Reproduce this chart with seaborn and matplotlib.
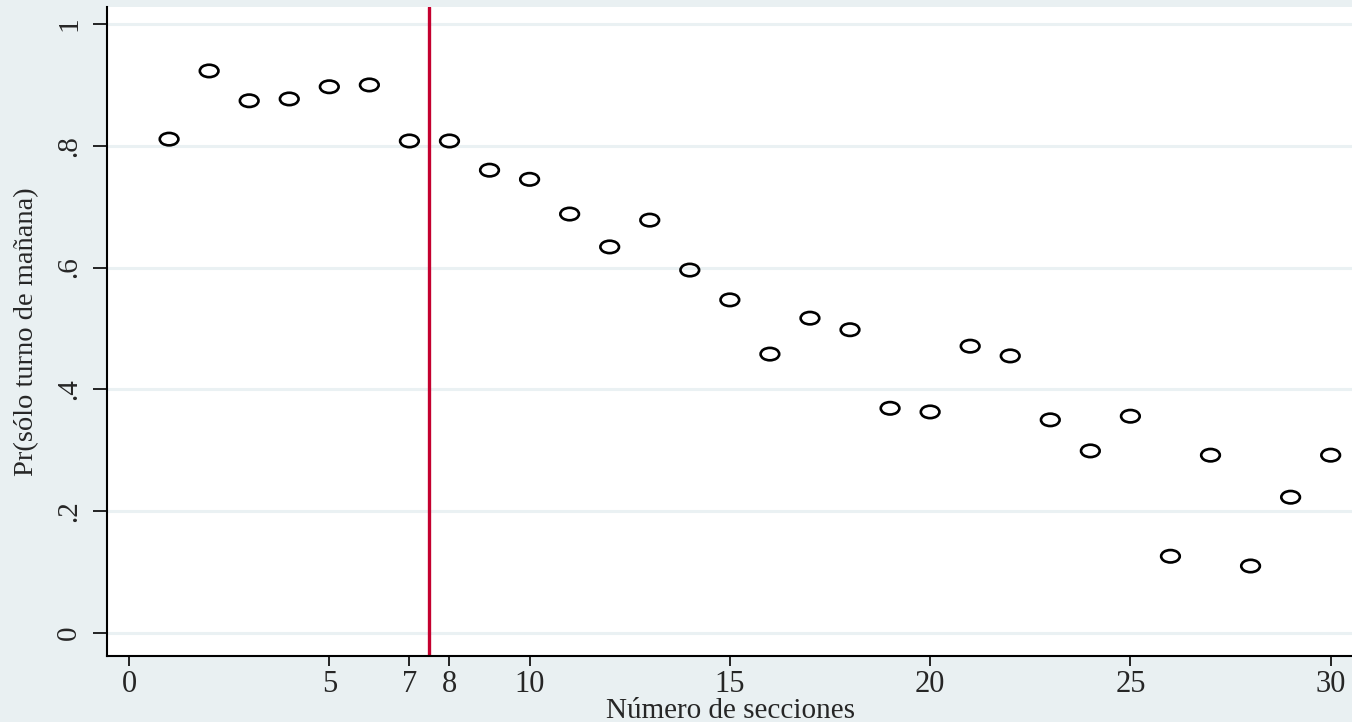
import numpy as np
import pandas as pd
import matplotlib
matplotlib.use("Agg")
import matplotlib.pyplot as plt
from matplotlib.path import Path
from matplotlib.transforms import Affine2D
import seaborn as sns

# Number of sections and the share of schools with morning shift only
secciones = list(range(1, 31))
prob_manana = [0.811, 0.923, 0.874, 0.877, 0.897, 0.900, 0.808, 0.808, 0.760, 0.745,
               0.688, 0.634, 0.678, 0.596, 0.547, 0.458, 0.517, 0.498, 0.369, 0.363,
               0.471, 0.455, 0.350, 0.299, 0.356, 0.126, 0.292, 0.110, 0.223, 0.292]
x_ticks = [0, 5, 7, 8, 10, 15, 20, 25, 30]
y_ticks = [0, 0.2, 0.4, 0.6, 0.8, 1.0]
y_ticklabels = ["0", ".2", ".4", ".6", ".8", "1"]
corte = 7.5

df = pd.DataFrame({"secciones": secciones, "prob": prob_manana})

bg = "#E9F0F2"
grid = "#EAF1F3"
sns.set_theme(style="white")
plt.rcParams["font.family"] = ["Liberation Serif", "DejaVu Serif"]

fig = plt.figure(figsize=(13.52, 7.22), dpi=100, facecolor=bg)
ax = fig.add_axes([107 / 1352, 66 / 722, 1 - 107 / 1352 + 0.002, (656 - 7) / 722])
ax.set_facecolor("white")

for yv in y_ticks:
    ax.axhline(yv, color=grid, lw=2.2, zorder=0)

# wide hollow ellipse marker
oval = Path.unit_circle().transformed(Affine2D().scale(1.5, 1.0))

sns.scatterplot(data=df, x="secciones", y="prob", ax=ax, marker=oval, s=180,
                facecolors="none", edgecolor="black", linewidth=1.9, zorder=3)

ax.axvline(corte, color="#C4002F", lw=2.4, zorder=2)

ax.set_xlim(-0.55, 30.6)
ax.set_ylim(-0.0378, 1.028)

ax.set_xticks(x_ticks)
ax.set_xticklabels([str(v) for v in x_ticks], fontsize=22)
ax.set_yticks(y_ticks)
ax.set_yticklabels(y_ticklabels, fontsize=21, rotation=90, va="center")

ax.tick_params(axis="x", direction="out", length=7, width=1.2, color="black", pad=3, bottom=True)
ax.tick_params(axis="y", direction="out", length=10, width=1.2, color="black", pad=8, left=True)

for side in ["top", "right"]:
    ax.spines[side].set_visible(False)
for side in ["left", "bottom"]:
    ax.spines[side].set_color("black")
    ax.spines[side].set_linewidth(1.5)

ax.set_xlabel("Número de secciones", fontsize=21, labelpad=-1)
ax.set_ylabel("Pr(sólo turno de mañana)", fontsize=20.5, labelpad=12)

fig.savefig("out.png", dpi=100, facecolor=bg)
